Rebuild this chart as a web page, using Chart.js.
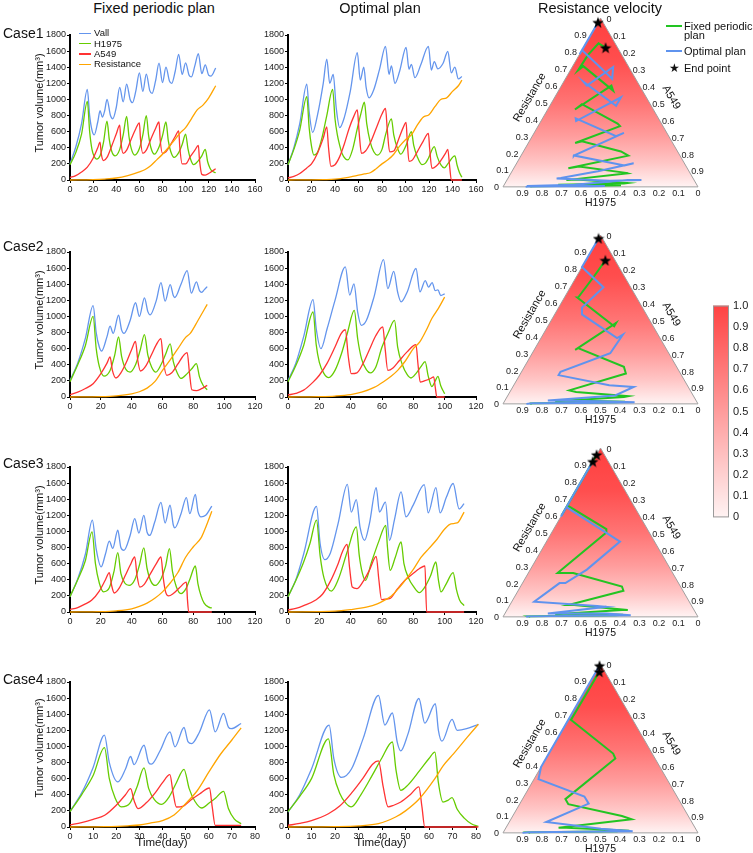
<!DOCTYPE html>
<html><head><meta charset="utf-8">
<script src="https://cdn.jsdelivr.net/npm/chart.js@4.4.0/dist/chart.umd.min.js"></script>
<style>
body{margin:0;width:753px;height:853px;position:relative;background:#fff;overflow:hidden;font-family:"Liberation Sans",Arial,sans-serif;color:#111}
canvas{position:absolute}
.t{position:absolute;white-space:nowrap;line-height:1;z-index:5}
.ln{position:absolute;z-index:5}
</style></head><body>
<script>
const FONT = '"Liberation Sans", Arial, sans-serif';
const S3 = Math.sqrt(3) / 2;

// ---------------- line chart data: [time(day), volume(mm3)] ----------------
const case1FixedVall = [[0,200],[5,410],[10,700],[15,1125],[17,800],[19,620],[21,560],[24,720],[26,860],[28,780],[30,860],[32,1000],[35,800],[37,760],[40,900],[43,1150],[46,970],[49,1190],[52,1000],[54,960],[57,1110],[60,1330],[63,1100],[66,1315],[69,1110],[71,1075],[74,1230],[77,1450],[80,1210],[83,1400],[86,1230],[88,1200],[91,1350],[94,1560],[97,1310],[100,1455],[103,1300],[105,1280],[108,1420],[111,1570],[114,1320],[117,1430],[120,1300],[122,1290],[126,1390]];
const case1FixedH1975 = [[0,190],[5,340],[10,570],[15,975],[17,600],[19,380],[21,290],[23,260],[26,300],[29,470],[32,730],[34,500],[36,360],[39,300],[43,380],[46,560],[49,790],[51,540],[53,390],[56,310],[60,390],[63,560],[66,800],[68,550],[70,400],[73,320],[77,410],[80,550],[83,720],[85,490],[87,360],[90,280],[94,340],[97,440],[100,570],[102,390],[104,270],[107,190],[111,240],[114,300],[117,380],[119,230],[121,150],[123,110],[126,90]];
const case1FixedA549 = [[0,30],[5,55],[10,100],[15,160],[20,270],[24,400],[26,470],[27,330],[29,240],[32,280],[36,420],[40,570],[43,680],[44,480],[46,330],[49,370],[53,510],[57,640],[60,710],[61,500],[63,330],[66,370],[70,510],[74,640],[77,720],[78,500],[80,330],[83,350],[87,440],[91,540],[94,610],[95,400],[97,200],[100,200],[104,290],[108,370],[111,430],[112,250],[114,70],[117,60],[121,90],[126,140]];
const case1FixedRes = [[0,0],[20,5],[30,12],[40,25],[50,55],[60,100],[65,130],[70,180],[75,250],[80,320],[85,400],[90,490],[95,580],[100,650],[105,760],[110,870],[115,930],[120,1020],[126,1170]];

const case1OptVall = [[0,190],[5,400],[10,700],[16,1190],[18,850],[21,590],[25,800],[30,1200],[33,1500],[35.5,1200],[38.5,1310],[41,900],[44,650],[48,780],[53,1100],[59,1580],[61.5,1240],[64.5,1400],[66.5,1150],[69,1020],[73,1120],[78,1380],[83,1660],[86,1310],[88,1415],[91,1200],[95,1350],[100.5,1645],[103,1375],[105,1435],[108,1270],[113,1430],[119.5,1660],[122,1365],[124.5,1470],[127.5,1380],[132,1450],[136,1595],[139,1330],[142,1400],[145,1255],[148,1285]];
const case1OptH1975 = [[0,190],[5,380],[10,620],[16,1035],[18,650],[20,420],[22,310],[25,340],[29,530],[33,800],[38,1125],[40,760],[42,560],[44,430],[46,330],[49,260],[51,250],[55,380],[59,640],[62,820],[65,965],[67,700],[70,470],[73,350],[76,310],[80,380],[83,560],[88,760],[90,560],[93,400],[96,320],[100.5,430],[105,600],[107,430],[110,290],[114,190],[117,210],[119.5,270],[124.5,414],[127,290],[130,190],[133,150],[136,200],[142,300],[144,180],[146,90],[148,35]];
const case1OptA549 = [[0,25],[5,45],[10,80],[16,150],[20,200],[25,330],[30,520],[33,660],[34.5,400],[36.5,170],[40,190],[44,290],[48,450],[52,640],[56,790],[59,870],[60.5,600],[62.5,330],[66,360],[70,460],[75,640],[80,820],[83,890],[84.5,620],[86.5,350],[90,360],[94,500],[98,650],[100.5,716],[101.5,480],[103,230],[106,250],[110,350],[115,480],[119.5,580],[120.5,400],[122.5,145],[126,170],[130,240],[134,330],[136,380],[137.5,180],[139,0],[148,0]];
const case1OptRes = [[0,0],[20,2],[30,5],[40,10],[50,30],[55,45],[60,60],[65,75],[70,90],[75,140],[80,200],[85,250],[90,320],[95,420],[100,500],[105,560],[110,680],[115,780],[120,810],[125,910],[130,1000],[135,1020],[140,1100],[145,1170],[148,1240]];

const case2FixedVall = [[0,205],[5,420],[10,730],[15,1135],[17,800],[19,620],[20.5,570],[24,750],[26,880],[28,790],[31.5,1015],[33.5,830],[35,790],[39,950],[42.5,1170],[45,1000],[48.3,1230],[50.5,1060],[52,1020],[56,1200],[59,1420],[61.7,1190],[65,1395],[67,1260],[68,1235],[72,1400],[76,1570],[78.7,1290],[82,1430],[84,1320],[85.5,1300],[87,1330],[89,1370]];
const case2FixedH1975 = [[0,190],[5,400],[10,640],[15,1000],[17,600],[19,380],[22,260],[26,330],[29,520],[31.5,745],[33.5,500],[36,350],[39,310],[42.5,400],[45.5,580],[48.3,775],[50.5,520],[53,370],[55.7,310],[59,400],[62,530],[65,660],[67,440],[69.5,300],[72,230],[76,290],[79,350],[82,415],[84,250],[86.5,140],[89,90]];
const case2FixedA549 = [[0,30],[5,60],[10,105],[15,165],[20,290],[24,420],[26,497],[27.5,330],[29.8,236],[33,300],[37,450],[40,590],[42.5,690],[44,450],[45.7,323],[49,380],[53,530],[56,650],[59,724],[60.5,450],[62.8,269],[66,300],[70,410],[73,500],[76,550],[77.5,300],[79,90],[82,80],[85,100],[89,145]];
const case2FixedRes = [[0,0],[20,5],[30,15],[40,40],[45,65],[50,110],[55,190],[60,330],[65,460],[70,600],[75,740],[78,790],[83,950],[89,1150]];

const case2OptVall = [[0,205],[5,420],[10,750],[16,1210],[18,850],[21,600],[25,850],[30,1200],[36.6,1615],[39.4,1265],[42.1,1405],[44.5,1050],[46.8,890],[50,950],[55,1250],[61,1705],[63.7,1345],[67.5,1560],[70,1300],[72.2,1180],[76,1300],[81.7,1595],[84.2,1305],[87.6,1445],[89.7,1365],[92,1420],[94,1320],[95.7,1330],[97.5,1260],[100,1280]];
const case2OptH1975 = [[0,190],[5,390],[10,640],[16,1055],[18,650],[20,430],[23,290],[26,240],[30,330],[34,530],[38,800],[42.3,1075],[44.5,720],[47,470],[50,340],[52.5,300],[56,370],[60,620],[64,800],[68,950],[70,620],[73,400],[76,280],[78.5,236],[82,300],[85,380],[87.5,440],[89.5,260],[91.8,130],[94,200],[95.7,255],[97.5,140],[100,40]];
const case2OptA549 = [[0,25],[5,45],[10,85],[16,185],[20,270],[25,420],[30,620],[34,790],[36.6,835],[38.5,500],[40.4,290],[44,300],[48,420],[52,590],[56,760],[60.5,870],[62,600],[63.7,330],[67,360],[71,450],[76,560],[81.7,650],[83,400],[84.4,185],[87,200],[91,230],[93,250],[94,120],[95,0],[100,0]];
const case2OptRes = [[0,0],[20,5],[30,12],[40,30],[47,60],[55,120],[61,190],[66,260],[70,330],[75,450],[80,600],[84,680],[88,820],[92,980],[96,1100],[100,1240]];

const case3FixedVall = [[0,190],[5,410],[10,720],[14.5,1140],[17,780],[20.2,560],[23,720],[25.5,880],[27.7,790],[31,1015],[33,800],[35,765],[39,950],[42,1160],[44.7,980],[47.9,1200],[50,990],[51.7,950],[55,1120],[59,1360],[61.7,1105],[64.9,1325],[67,1080],[68,1045],[72,1220],[75.5,1420],[77.7,1220],[81.3,1460],[83,1250],[85,1180],[88,1200],[92,1315]];
const case3FixedH1975 = [[0,190],[5,400],[10,640],[14.3,995],[16.5,600],[19,360],[21.7,250],[25.5,300],[28.5,500],[31,737],[33,480],[35.5,360],[38.3,330],[42,400],[45,580],[47.9,795],[50,540],[52.5,380],[55.3,330],[59,410],[62,570],[64.5,787],[66.5,500],[69,310],[72,228],[75.5,300],[78,420],[81.3,571],[83,350],[85,200],[87,110],[90,60],[92,50]];
const case3FixedA549 = [[0,30],[5,55],[10,100],[14,145],[19,260],[23,400],[25.5,489],[27,330],[28.7,236],[32,300],[36,460],[39,580],[42,683],[43.5,450],[45.3,310],[48,340],[52,470],[56,600],[59,683],[60.5,420],[62,250],[64,200],[67,230],[71,300],[75.5,370],[76.2,150],[77,0],[92,0]];
const case3FixedRes = [[0,0],[20,5],[30,15],[40,40],[45,70],[50,110],[55,170],[60,250],[65,360],[70,490],[75,680],[80,810],[85,920],[88,1050],[92,1250]];

const case3OptVall = [[0,190],[5,400],[10,720],[18.2,1310],[20.5,850],[23.5,650],[27,730],[32,1100],[37.9,1585],[40.4,1240],[43.6,1395],[46,1050],[48.9,890],[52,1100],[56.3,1545],[58.4,1240],[62.2,1365],[64.8,890],[68,1150],[72.2,1490],[75.3,1180],[80,1330],[87,1580],[89.5,1230],[94.4,1545],[97.1,1230],[101,1420],[105.4,1595],[109.2,1280],[112.4,1345]];
const case3OptH1975 = [[0,190],[5,390],[10,620],[14,850],[18.2,1140],[20.5,700],[23,420],[27.7,260],[32,400],[38,760],[43.6,1056],[45.5,700],[47.5,480],[49.5,393],[53,600],[58,880],[62.4,1076],[63.5,800],[65.2,518],[68.5,680],[72.2,869],[74,600],[77,420],[80,320],[83.8,240],[87,300],[91,450],[94.4,621],[96,400],[97.6,250],[101,350],[105.4,489],[107.5,280],[109.5,150],[112.4,80]];
const case3OptA549 = [[0,25],[5,45],[10,80],[18,153],[22,220],[27,380],[32,600],[35,760],[37.7,840],[39.3,550],[41,310],[44,290],[48,380],[52,520],[56.3,691],[58,400],[59.7,153],[62,160],[64.8,165],[70,290],[75,400],[80,480],[84,540],[87.4,571],[88.5,0],[112.4,0]];
const case3OptRes = [[0,0],[30,10],[40,30],[50,60],[57,100],[62,150],[66,200],[70,280],[75,400],[80,530],[85,680],[90,790],[95,900],[100,1030],[104,1095],[108,1105],[112.4,1240]];

const case4FixedVall = [[0,195],[5,420],[10,740],[14.9,1140],[17,800],[20.7,560],[24,720],[26.2,875],[27.7,775],[32,1015],[34,800],[35.2,780],[39,950],[43.2,1180],[45.4,995],[49.3,1235],[51,1060],[52.6,1035],[56,1180],[60.3,1455],[62.8,1180],[66.4,1410],[68.5,1240],[69.7,1220],[74,1285]];
const case4FixedH1975 = [[0,190],[5,400],[10,640],[14.9,985],[17,600],[19.5,360],[22.2,250],[26,300],[29,500],[32,733],[34,480],[36.5,340],[39.6,281],[43,380],[46,550],[49.3,716],[51.5,480],[54,320],[57,236],[60.3,300],[63,360],[66.4,443],[68.5,230],[71,100],[74,40]];
const case4FixedA549 = [[0,25],[5,55],[10,95],[15,145],[20,270],[24,400],[26.2,476],[27.8,320],[29.4,228],[33,300],[37,430],[40,550],[43.2,650],[44.6,420],[46,248],[49,260],[52,330],[56,410],[60.3,484],[61.5,250],[62.8,21],[74,20]];
const case4FixedRes = [[0,0],[15,5],[25,15],[30,25],[35,50],[40,80],[45,150],[50,290],[55,450],[60,680],[65,900],[70,1080],[74,1230]];

const case4OptVall = [[0,186],[5,400],[10,720],[17.5,1265],[19.5,850],[22.8,615],[27,720],[32,1100],[38.5,1635],[41.2,1265],[44.4,1415],[46.5,1050],[48,945],[51,1150],[55.7,1595],[58.2,1290],[62.7,1530],[64,1200],[65.5,1065],[69.8,1335],[72,1200],[76,1220],[81,1275]];
const case4OptH1975 = [[0,190],[5,380],[10,600],[17.2,1095],[19.5,650],[22,420],[24.5,300],[26.9,250],[31,400],[36,650],[40,860],[44.4,1055],[46,700],[48,455],[51,520],[56,700],[60,850],[62.5,930],[64,550],[65.9,310],[68,330],[69.8,365],[72,220],[75,110],[78,40],[81,8]];
const case4OptA549 = [[0,20],[5,45],[10,80],[17.2,165],[22,260],[27,420],[32,610],[36,780],[38.5,820],[40.5,500],[42.6,250],[45,270],[48,310],[52,400],[55.7,497],[57,250],[58.2,0],[81,0]];
const case4OptRes = [[0,0],[20,5],[30,15],[38.5,41],[45.8,124],[50,200],[55.7,344],[62.5,600],[66,760],[70.5,911],[76.4,1118],[81,1275]];

// ---------------- ternary trajectories: fractions of Resistance and A549 ----------------
const tern1FixedRes  = [0,.004,.008,.01,.012,.012,.02,.023,.043,.04,.08,.083,.12,.11,.185,.21,.27,.26,.36,.375,.49,.458,.6,.57,.715,.69,.78,.85,.824];
const tern1FixedA549 = [.14,.144,.53,.60,.33,.277,.61,.627,.355,.305,.6,.59,.33,.28,.55,.50,.27,.24,.42,.40,.16,.14,.256,.28,.054,.04,.045,.065,.114];
const tern1OptRes    = [0,.002,.005,.005,.004,.005,.005,.013,.04,.04,.037,.05,.053,.093,.14,.126,.186,.185,.32,.30,.406,.39,.53,.48,.62,.60,.71,.64,.81,.786,.974];
const tern1OptA549   = [.116,.127,.43,.52,.45,.14,.12,.36,.62,.69,.53,.25,.27,.44,.6,.56,.27,.27,.46,.43,.17,.18,.34,.34,.105,.13,.21,.24,0,0,0];

const tern2FixedRes  = [0,.003,.01,.012,.02,.015,.04,.045,.07,.08,.18,.22,.33,.32,.48,.46,.63,.63,.76,.85];
const tern2FixedA549 = [.14,.14,.57,.62,.34,.26,.6,.62,.34,.30,.54,.51,.22,.21,.34,.34,.066,.07,.09,.10];
const tern2OptRes    = [0,.003,.005,.01,.015,.02,.02,.05,.1,.11,.17,.19,.3,.41,.39,.53,.57,.69,.69,.81,.98];
const tern2OptA549   = [.12,.15,.4,.67,.5,.22,.22,.55,.62,.49,.2,.2,.4,.41,.39,.14,.12,.17,.17,0,0];

const tern3FixedRes  = [0,.003,.01,.012,.02,.015,.04,.04,.07,.07,.155,.18,.26,.26,.5,.52,.66,.6,.79,.96];
const tern3FixedA549 = [.14,.13,.57,.61,.32,.26,.59,.62,.33,.30,.54,.52,.23,.15,.28,.27,0,0,0,0];
const tern3OptRes    = [0,.003,.01,.02,.02,.06,.065,.09,.2,.2,.28,.446,.46,.65,.595,.8,.69,.92];
const tern3OptA549   = [.12,.12,.65,.52,.22,.5,.45,.115,.19,.22,.29,.377,.35,0,0,0,0,0];

const tern4FixedRes  = [0,.003,.01,.015,.03,.03,.08,.1,.17,.2,.44,.47,.67,.67,.86,.954];
const tern4FixedA549 = [.14,.13,.58,.6,.31,.27,.62,.56,.25,.22,.356,.33,.013,.014,.016,.017];
const tern4OptRes    = [0,.003,.01,.025,.064,.173,.215,.318,.39,.7,.71,.99];
const tern4OptA549   = [.1,.13,.66,.49,.19,.353,.31,.023,0,0,0,0];

const ternTicks = [0,.1,.2,.3,.4,.5,.6,.7,.8,.9];
const colorbarRange = [0, 1];

// ---------------- styles ----------------
const COL = {vall:'#6495ed', h1975:'#66cc00', a549:'#ff3333', res:'#ffa500'};
const TGREEN = '#22c422', TBLUE = '#5f93ee';

function mkCanvas(l,t,w,h){
  const c=document.createElement('canvas');
  c.width=w;c.height=h;
  Object.assign(c.style,{left:l+'px',top:t+'px',width:w+'px',height:h+'px'});
  document.body.appendChild(c);
  return c;
}
function txt(s,x,y,size,opts={}){
  const d=document.createElement('div');
  d.className='t';
  d.textContent=s;
  d.style.fontSize=size+'px';
  d.style.left=x+'px'; d.style.top=y+'px';
  const ax = opts.align==='left' ? '0' : '-50%';
  d.style.transform=`translate(${ax},-50%)`+(opts.rot?` rotate(${opts.rot}deg)`:'');
  if(opts.color) d.style.color=opts.color;
  document.body.appendChild(d);
  return d;
}
function seg(x,y,w,h,color){
  const d=document.createElement('div');
  d.className='ln';
  Object.assign(d.style,{left:x+'px',top:(y-h/2)+'px',width:w+'px',height:h+'px',background:color});
  document.body.appendChild(d);
}
const pts = a => a.map(p=>({x:p[0],y:p[1]}));

function lineChart(cfg){
  const YW=46, XH=18, PT=8, PR=16;
  const l=cfg.left-YW, t=cfg.top-PT;
  const w=cfg.right+PR-l, h=cfg.bottom+XH-t;
  const c=mkCanvas(l,t,w,h);
  const ds=[
    {data:pts(cfg.res),borderColor:COL.res},
    {data:pts(cfg.a549),borderColor:COL.a549},
    {data:pts(cfg.h1975),borderColor:COL.h1975},
    {data:pts(cfg.vall),borderColor:COL.vall}
  ].map(d=>Object.assign(d,{borderWidth:1.3,pointRadius:0,fill:false,cubicInterpolationMode:'monotone',clip:false}));
  const axis = (extra)=>Object.assign({
    grid:{drawOnChartArea:false,drawTicks:true,tickLength:3,tickColor:'#000',color:'#000'},
    border:{display:true,color:'#000',width:2}
  },extra);
  new Chart(c,{type:'line',data:{datasets:ds},options:{
    responsive:false,animation:false,events:[],
    layout:{padding:{left:0,right:PR,top:PT,bottom:0}},
    plugins:{legend:{display:false},tooltip:{enabled:false}},
    scales:{
      x:axis({type:'linear',min:0,max:cfg.xMax,afterFit(s){s.height=XH;},
        ticks:{stepSize:cfg.xStep,autoSkip:false,maxRotation:0,padding:1,color:'#222',font:{family:FONT,size:9},callback:v=>String(v)}}),
      y:axis({type:'linear',min:0,max:1800,afterFit(s){s.width=YW;},
        ticks:{stepSize:200,autoSkip:false,padding:1,color:'#222',font:{family:FONT,size:9},callback:v=>String(v)}})
    }}});
}

function makeStar(size){
  const c=document.createElement('canvas'); c.width=c.height=size;
  const g=c.getContext('2d'); g.fillStyle='#000'; g.beginPath();
  for(let i=0;i<10;i++){
    const r=i%2?size*0.21:size*0.5, a=-Math.PI/2+i*Math.PI/5;
    const px=size/2+r*Math.cos(a), py=size/2+r*Math.sin(a)+size*0.05;
    i?g.lineTo(px,py):g.moveTo(px,py);
  }
  g.closePath(); g.fill(); return c;
}
const STAR = makeStar(12);

function ternChart(cfg){
  const L=503, R=698, W=R-L, H=W*S3;
  const cl=462, ct=cfg.top-14, cw=753-cl, chH=Math.round(H+14+36);
  const c=mkCanvas(cl,ct,cw,chH);
  const toXY=(r,a)=>({x:a+r/2,y:r*S3});
  const trace=(rs,as)=>rs.map((r,i)=>toXY(r,as[i]));
  const g=trace(cfg.gRes,cfg.gA), b=trace(cfg.bRes,cfg.bA);
  const fmt=v=>v===0?'0':v.toFixed(1);
  const plugin={id:'tern',beforeDatasetsDraw(ch){
    const {ctx,scales:{x,y}}=ch;
    const P=(r,a)=>[x.getPixelForValue(a+r/2),y.getPixelForValue(r*S3)];
    const [ax,ay]=P(1,0),[lx,ly]=P(0,0),[rx,ry]=P(0,1);
    ctx.save();
    const gr=ctx.createLinearGradient(0,ay,0,ly);
    gr.addColorStop(0,'#ff3f3f'); gr.addColorStop(0.25,'#ff4e4e'); gr.addColorStop(0.5,'#ff7474');
    gr.addColorStop(0.7,'#ff9d9d'); gr.addColorStop(0.86,'#ffc6c6'); gr.addColorStop(1,'#fff3f3');
    ctx.beginPath(); ctx.moveTo(ax,ay); ctx.lineTo(lx,ly); ctx.lineTo(rx,ry); ctx.closePath();
    ctx.fillStyle=gr; ctx.fill();
    ctx.strokeStyle='#a0a0a0'; ctx.lineWidth=1; ctx.stroke();
    ctx.fillStyle='#222'; ctx.font='9px '+FONT;
    ternTicks.forEach(v=>{
      let [px,py]=P(v,0); ctx.textAlign='right'; ctx.textBaseline='middle'; ctx.fillText(fmt(v),px-4,py+1);
      [px,py]=P(1-v,v); ctx.textAlign='left'; ctx.fillText(fmt(v),px+(v===0?6:3),py+2);
      [px,py]=P(0,1-v); ctx.textAlign='center'; ctx.fillText(fmt(v),px,py+7);
    });
    ctx.fillStyle='#111';
    ctx.font='10.5px '+FONT; ctx.textAlign='center'; ctx.textBaseline='middle';
    const [bx,by]=P(0,0.5); ctx.fillText('H1975',bx,by+16);
    ctx.font='11px '+FONT;
    const [mlx,mly]=P(0.5,0); ctx.save(); ctx.translate(mlx-22,mly-5); ctx.rotate(-Math.PI/3); ctx.fillText('Resistance',0,0); ctx.restore();
    const [mrx,mry]=P(0.5,0.5); ctx.save(); ctx.translate(mrx+22,mry-5); ctx.rotate(Math.PI/3); ctx.fillText('A549',0,0); ctx.restore();
    ctx.restore();
  }};
  new Chart(c,{type:'scatter',data:{datasets:[
    {data:[g[g.length-1],b[b.length-1]],pointStyle:STAR,pointRadius:6,showLine:false,clip:false},
    {data:b,showLine:true,borderColor:TBLUE,backgroundColor:TBLUE,borderWidth:2,pointRadius:0,clip:false},
    {data:g,showLine:true,borderColor:TGREEN,backgroundColor:TGREEN,borderWidth:2,pointRadius:0,clip:false}
  ]},options:{
    responsive:false,animation:false,events:[],
    layout:{padding:{left:L-cl,right:753-R,top:14,bottom:chH-14-H}},
    plugins:{legend:{display:false},tooltip:{enabled:false}},
    scales:{x:{type:'linear',min:0,max:1,display:false},y:{type:'linear',min:0,max:S3,display:false}}
  },plugins:[plugin]});
}

// ---------------- line charts ----------------
const rows=[
  {top:35,bottom:180,xMax:160,xStep:20,f:[case1FixedVall,case1FixedH1975,case1FixedA549,case1FixedRes],o:[case1OptVall,case1OptH1975,case1OptA549,case1OptRes]},
  {top:252,bottom:397,xMax:120,xStep:20,f:[case2FixedVall,case2FixedH1975,case2FixedA549,case2FixedRes],o:[case2OptVall,case2OptH1975,case2OptA549,case2OptRes]},
  {top:467,bottom:612,xMax:120,xStep:20,f:[case3FixedVall,case3FixedH1975,case3FixedA549,case3FixedRes],o:[case3OptVall,case3OptH1975,case3OptA549,case3OptRes]},
  {top:682,bottom:827,xMax:80,xStep:10,f:[case4FixedVall,case4FixedH1975,case4FixedA549,case4FixedRes],o:[case4OptVall,case4OptH1975,case4OptA549,case4OptRes]}
];
rows.forEach(r=>{
  lineChart({left:70,right:255,top:r.top,bottom:r.bottom,xMax:r.xMax,xStep:r.xStep,vall:r.f[0],h1975:r.f[1],a549:r.f[2],res:r.f[3]});
  lineChart({left:288,right:476,top:r.top,bottom:r.bottom,xMax:r.xMax,xStep:r.xStep,vall:r.o[0],h1975:r.o[1],a549:r.o[2],res:r.o[3]});
});

// ---------------- ternary charts ----------------
ternChart({top:18, gRes:tern1FixedRes,gA:tern1FixedA549,bRes:tern1OptRes,bA:tern1OptA549});
ternChart({top:235,gRes:tern2FixedRes,gA:tern2FixedA549,bRes:tern2OptRes,bA:tern2OptA549});
ternChart({top:448,gRes:tern3FixedRes,gA:tern3FixedA549,bRes:tern3OptRes,bA:tern3OptA549});
ternChart({top:664,gRes:tern4FixedRes,gA:tern4FixedA549,bRes:tern4OptRes,bA:tern4OptA549});

// ---------------- colorbar ----------------
(function(){
  const c=mkCanvas(690,295,63,233);
  new Chart(c,{type:'scatter',data:{datasets:[]},options:{
    responsive:false,animation:false,events:[],
    layout:{padding:{left:23,right:0,top:8,bottom:8}},
    plugins:{legend:{display:false},tooltip:{enabled:false}},
    scales:{
      x:{type:'linear',min:0,max:1,display:false},
      y:{type:'linear',position:'right',min:colorbarRange[0],max:colorbarRange[1],afterFit(s){s.width=24;},
        ticks:{stepSize:0.1,padding:4,color:'#222',font:{family:FONT,size:11},
          callback:v=>Math.abs(v-1)<1e-9?'1.0':(Math.abs(v)<1e-9?'0':v.toFixed(1))},
        grid:{display:false,drawTicks:false},border:{display:false}}
    }},plugins:[{id:'cbar',beforeDatasetsDraw(ch){
      const {ctx,chartArea:a}=ch; ctx.save();
      const gr=ctx.createLinearGradient(0,a.top,0,a.bottom);
      gr.addColorStop(0,'#ff4343'); gr.addColorStop(0.5,'#ff9c9c'); gr.addColorStop(1,'#fff3f3');
      ctx.fillStyle=gr; ctx.fillRect(a.left,a.top,a.right-a.left,a.bottom-a.top);
      ctx.strokeStyle='#9a9a9a'; ctx.lineWidth=1; ctx.strokeRect(a.left+0.5,a.top+0.5,a.right-a.left-1,a.bottom-a.top-1);
      ctx.restore();
    }}]});
})();

// ---------------- texts ----------------
txt('Fixed periodic plan',154,7.5,14.5);
txt('Optimal plan',380,7.5,14.5);
txt('Resistance velocity',600,7.5,14.5);
[['Case1',33.4],['Case2',245.9],['Case3',463.2],['Case4',678.9]].forEach(([s,y])=>txt(s,3,y,14,{align:'left'}));
[103,320,535,748].forEach(y=>txt('Tumor volume(mm³)',39,y,11,{rot:-90}));
txt('Time(day)',162,843,11.5);
txt('Time(day)',381,843,11.5);
// legend of first line chart
[['Vall',COL.vall,33.3],['H1975',COL.h1975,43.7],['A549',COL.a549,54],['Resistance',COL.res,64.3]].forEach(([s,c,y])=>{
  seg(79,y,12,1.6,c); txt(s,94,y,9.5,{align:'left'});
});
// legend of ternary chart
seg(666,26,16,2,TGREEN); txt('Fixed periodic',684,26,11,{align:'left'}); txt('plan',684,35,11,{align:'left'});
seg(666,51,16,2,TBLUE); txt('Optimal plan',684,51,11,{align:'left'});
txt('★',674,68,12); txt('End point',684,68,11,{align:'left'});
</script>
</body></html>
